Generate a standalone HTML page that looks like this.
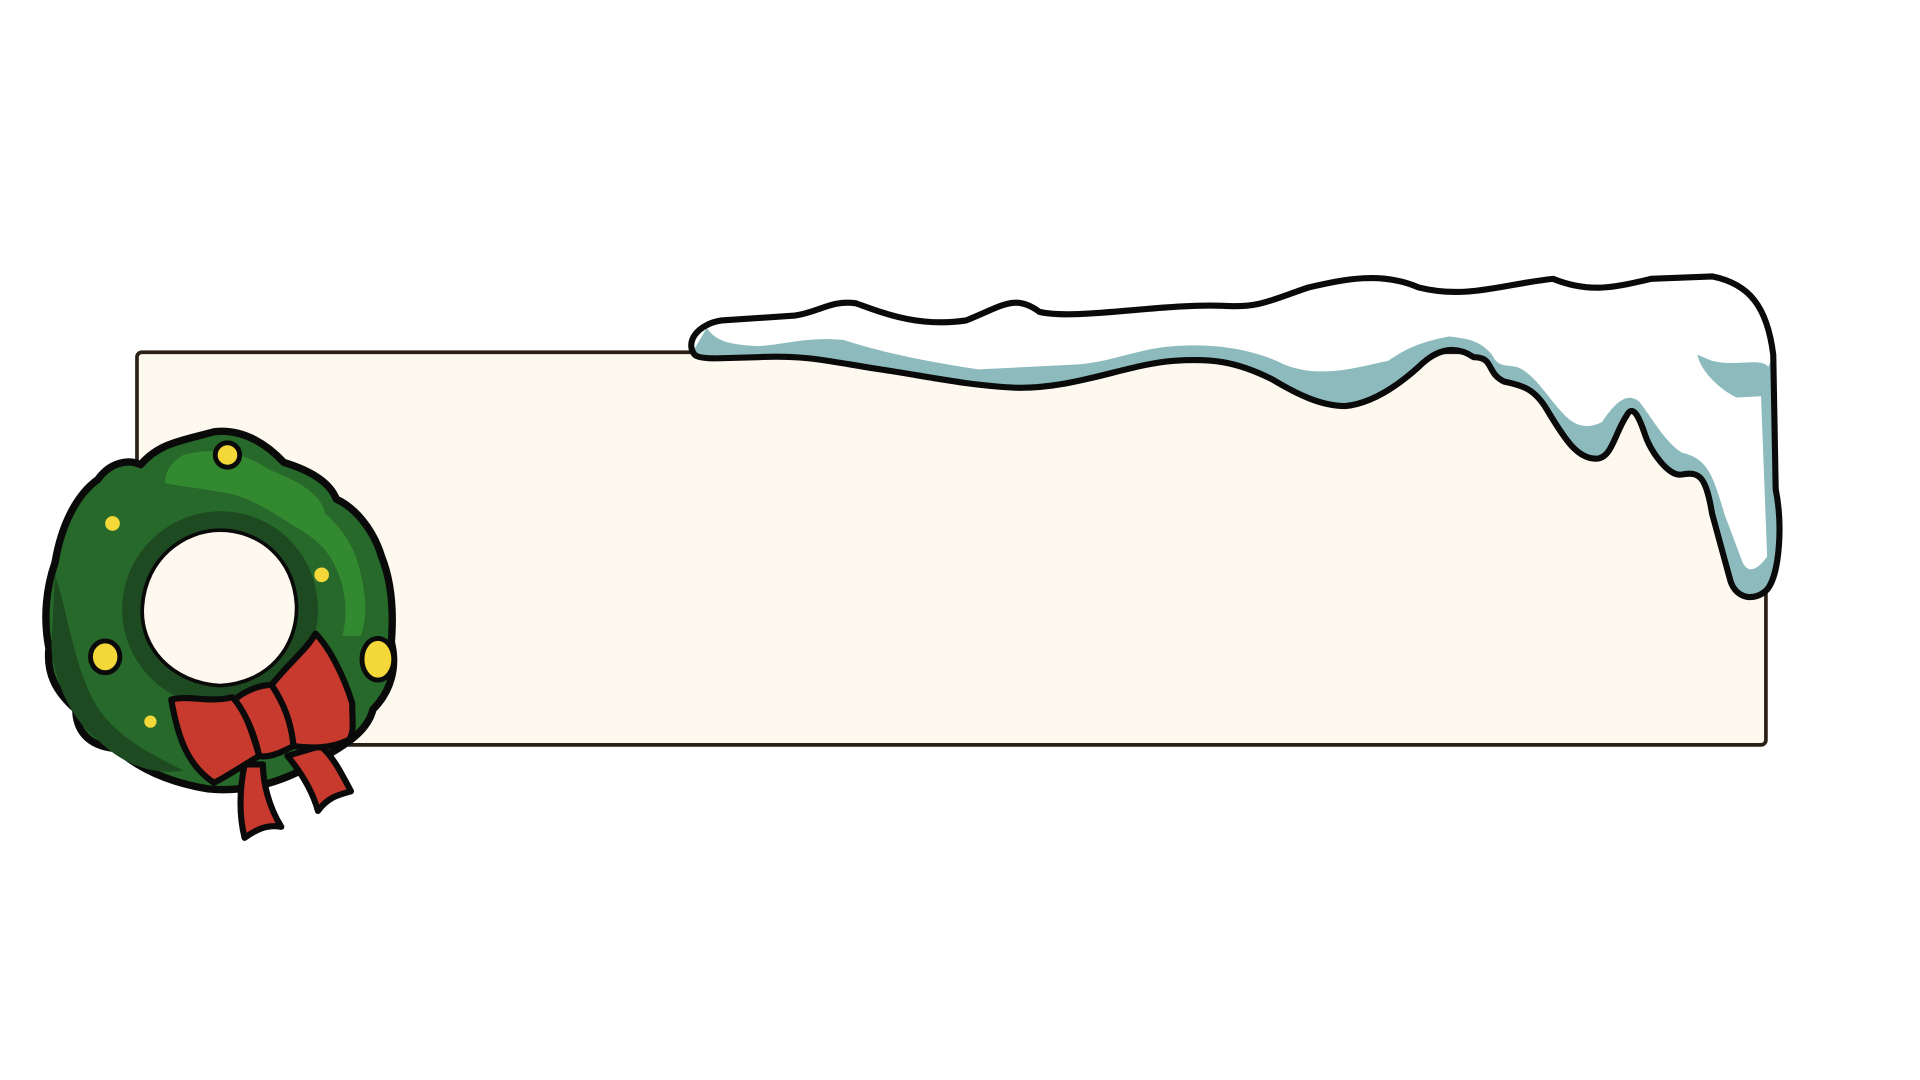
<!DOCTYPE html>
<html><head><meta charset="utf-8"><style>
html,body{margin:0;padding:0;background:#fff;width:1920px;height:1080px;overflow:hidden}
svg{display:block}
</style></head><body>
<svg width="1920" height="1080" viewBox="0 0 1570 883" preserveAspectRatio="none">
<rect x="112" y="288" width="1332" height="321" rx="4" fill="#fdf9ee" stroke="#2a2015" stroke-width="3"/>
<g>
<path fill="#8dbbbd" d="M568,290 C560,280 570,265 590,262 L650,258 C670,255 680,245 700,248 C720,255 750,268 790,262 C820,250 830,240 850,255 C880,262 950,248 1000,250 C1030,252 1040,245 1070,235 C1100,228 1130,222 1160,235 C1200,245 1230,232 1270,228 C1300,240 1320,235 1350,228 L1400,226 C1430,232 1445,250 1450,290 L1452,400 C1458,430 1455,470 1445,482 C1435,492 1420,490 1415,475 L1400,420 C1395,390 1390,385 1375,388 C1365,390 1350,370 1345,355 C1340,340 1335,330 1330,340 C1320,355 1318,375 1305,375 C1290,375 1280,360 1265,335 C1255,318 1245,315 1230,312 C1215,305 1222,292 1205,292 C1190,282 1175,285 1160,300 C1140,318 1120,330 1100,332 C1080,332 1060,322 1040,310 C1010,295 990,293 960,295 C920,298 880,318 830,317 C790,315 760,308 720,302 C680,296 660,290 620,292 L585,293 C575,293 570,292 568,290 Z"/>
<path fill="#ffffff" d="M568,285 C560,280 570,265 590,262 L650,258 C670,255 680,245 700,248 C720,255 750,268 790,262 C820,250 830,240 850,255 C880,262 950,248 1000,250 C1030,252 1040,245 1070,235 C1100,228 1130,222 1160,235 C1200,245 1230,232 1270,228 C1300,240 1320,235 1350,228 L1400,226 C1430,232 1445,250 1450,290 L1446,300 C1440,292 1420,300 1400,295 L1388,290 C1390,302 1405,318 1420,325 L1440,324 L1445,455 C1438,465 1430,470 1425,460 L1410,420 C1400,385 1395,375 1375,370 C1360,360 1350,340 1340,328 C1330,320 1320,330 1310,345 C1300,350 1290,350 1280,340 C1265,325 1255,305 1240,300 C1230,298 1225,300 1220,290 C1210,278 1200,277 1185,275 C1160,280 1150,285 1135,295 C1110,300 1080,310 1050,298 C1030,288 1000,280 960,283 C930,285 910,296 880,298 L800,302 C760,296 720,288 690,278 C660,275 640,282 620,283 C600,282 585,280 578,268 Z"/>
<path fill="none" stroke="#0a0a0a" stroke-width="5" stroke-linejoin="round" d="M568,290 C560,280 570,265 590,262 L650,258 C670,255 680,245 700,248 C720,255 750,268 790,262 C820,250 830,240 850,255 C880,262 950,248 1000,250 C1030,252 1040,245 1070,235 C1100,228 1130,222 1160,235 C1200,245 1230,232 1270,228 C1300,240 1320,235 1350,228 L1400,226 C1430,232 1445,250 1450,290 L1452,400 C1458,430 1455,470 1445,482 C1435,492 1420,490 1415,475 L1400,420 C1395,390 1390,385 1375,388 C1365,390 1350,370 1345,355 C1340,340 1335,330 1330,340 C1320,355 1318,375 1305,375 C1290,375 1280,360 1265,335 C1255,318 1245,315 1230,312 C1215,305 1222,292 1205,292 C1190,282 1175,285 1160,300 C1140,318 1120,330 1100,332 C1080,332 1060,322 1040,310 C1010,295 990,293 960,295 C920,298 880,318 830,317 C790,315 760,308 720,302 C680,296 660,290 620,292 L585,293 C575,293 570,292 568,290 Z"/>
</g>
<g>
<path fill="#27692a" stroke="#0a0a0a" stroke-width="6" stroke-linejoin="round" fill-rule="evenodd" d="M115,380 C130,362 150,360 175,353 C200,350 220,365 232,378 C255,385 270,395 275,408 C290,415 305,432 312,455 C320,475 322,500 320,525 C325,545 320,565 305,580 C300,600 280,610 255,625 C230,640 200,648 170,645 C140,640 115,630 95,612 C70,610 62,595 62,580 C45,565 38,550 40,530 C35,505 38,480 45,460 C50,430 62,405 80,392 C90,378 105,375 115,380 Z M180,432 C150,432 118,455 115,495 C112,530 140,560 180,562 C220,560 245,530 244,495 C242,455 212,432 180,432 Z"/>
<path fill="#1d4a20" fill-rule="evenodd" d="M180,418 C140,418 102,450 100,495 C98,540 135,578 180,578 C225,578 262,540 260,495 C258,450 222,418 180,418 Z M180,432 C150,432 118,455 115,495 C112,530 140,560 180,562 C220,560 245,530 244,495 C242,455 212,432 180,432 Z"/>
<path fill="#1d4a20" d="M45,470 C55,500 60,540 75,570 C90,600 120,615 150,630 C120,635 95,620 80,605 C60,590 45,560 42,530 Z"/>
<path fill="#33892f" d="M150,372 C175,365 200,370 220,384 C240,392 262,402 266,420 C280,432 292,450 295,470 C300,490 300,505 295,520 L280,520 C285,500 282,480 275,465 C268,448 255,438 240,430 C225,420 210,410 190,404 C170,400 150,398 135,395 C135,385 140,378 150,372 Z"/>
<circle cx="186" cy="372" r="10" fill="#f4d83a" stroke="#0a0a0a" stroke-width="4"/>
<circle cx="92" cy="428" r="6" fill="#f4d83a"/>
<circle cx="263" cy="470" r="6" fill="#f4d83a"/>
<circle cx="123" cy="590" r="5" fill="#f4d83a"/>
<ellipse cx="86" cy="537" rx="12" ry="13" fill="#f4d83a" stroke="#0a0a0a" stroke-width="4"/>
<ellipse cx="309" cy="539" rx="13" ry="17" fill="#f4d83a" stroke="#0a0a0a" stroke-width="4"/>
</g>
<g stroke="#0a0a0a" stroke-width="5" stroke-linejoin="round" fill="#c83a2e">
<path d="M200,625 C196,645 195,665 200,685 C210,678 218,674 230,676 C220,660 215,640 215,625 Z"/>
<path d="M235,618 C245,630 255,645 260,663 C268,652 276,650 287,647 C278,630 272,618 262,610 Z"/>
<path d="M140,572 C145,600 152,625 175,640 C185,635 200,625 212,618 C205,595 200,580 190,570 C170,575 155,568 140,572 Z"/>
<path d="M222,560 C238,540 250,532 258,518 C270,530 282,555 288,575 C288,590 290,600 285,605 C270,612 255,612 240,610 C238,590 232,575 222,560 Z"/>
<path d="M192,572 C200,565 212,560 222,560 C232,575 238,590 240,610 C230,615 220,620 212,618 C208,600 202,585 192,572 Z"/>
</g>
</svg>
</body></html>
